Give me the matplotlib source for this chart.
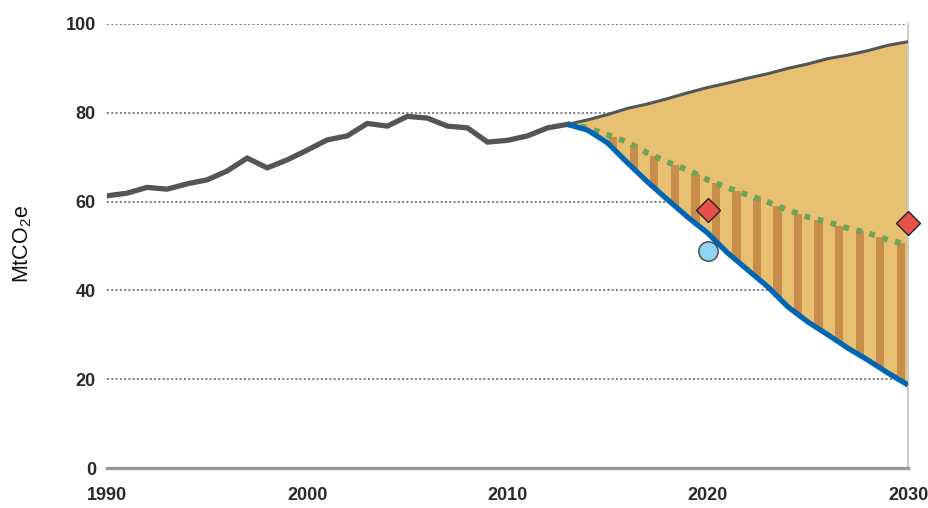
import numpy as np
import matplotlib
matplotlib.use("Agg")
import matplotlib.pyplot as plt

plt.rcParams['font.family'] = ['Liberation Sans', 'DejaVu Sans']
plt.rcParams['mathtext.default'] = 'regular'

hist_years = list(range(1990, 2014))
hist_vals = [61.3, 61.9, 63.2, 62.8, 64.0, 64.9, 66.9, 69.8, 67.6, 69.4,
             71.6, 73.9, 74.8, 77.6, 77.0, 79.2, 78.8, 77.0, 76.6, 73.4,
             73.8, 74.8, 76.6, 77.4]

proj_years = list(range(2013, 2031))
bau_vals = [77.4, 78.4, 79.6, 81.0, 82.0, 83.2, 84.5, 85.7, 86.7, 87.8,
            88.8, 90.0, 91.0, 92.2, 93.0, 94.0, 95.2, 96.0]
target_vals = [77.4, 76.6, 75.0, 73.4, 70.9, 68.9, 67.1, 64.9, 63.1, 61.5,
               59.9, 58.1, 56.5, 55.4, 54.0, 52.9, 51.4, 50.2]
pathway_vals = [77.4, 76.1, 73.2, 68.7, 64.4, 60.4, 56.5, 52.9, 48.4, 44.6,
                40.8, 36.3, 32.9, 30.0, 27.0, 24.3, 21.4, 18.7]

diamond_years = [2020, 2030]
diamond_vals = [58.2, 55.2]
circle_years = [2020]
circle_vals = [48.9]

y_ticks = [0, 20, 40, 60, 80, 100]
x_ticks = [1990, 2000, 2010, 2020, 2030]

fig = plt.figure(figsize=(9.29, 5.08), dpi=100)
ax = fig.add_axes([0.1152, 0.0787, 0.8622, 0.8741])

ax.set_xlim(1990, 2030)
ax.set_ylim(0, 100)

for yt in y_ticks[1:]:
    ax.axhline(yt, color='#7a7a7a', lw=1.4, ls=(0, (1, 1.2)), zorder=1)

# main fill between pathway and BAU
ax.fill_between(proj_years, pathway_vals, bau_vals, color='#E8C072', lw=0, zorder=2)

# stripes between pathway and target
stripe_x = np.arange(2014.25, 2030, 1.026)
lo = np.interp(stripe_x, proj_years, pathway_vals)
hi = np.interp(stripe_x, proj_years, target_vals)
ax.bar(stripe_x, hi - lo, bottom=lo, width=0.42, color='#C98D4B', lw=0, zorder=3)

ax.plot(proj_years, target_vals, color='#6FA356', lw=4.2, ls=(0, (1, 1.3)),
        zorder=4)
ax.plot(proj_years, bau_vals, color='#555555', lw=2.2, zorder=5,
        solid_capstyle='round')
ax.plot(hist_years, hist_vals, color='#555555', lw=3.8, zorder=6,
        solid_joinstyle='miter')
ax.plot(proj_years, pathway_vals, color='#0066B3', lw=3.8, zorder=6,
        solid_capstyle='butt')

ax.plot(diamond_years, diamond_vals, 'D', ms=12.5, mfc='#E8514A', mec='#222222',
        mew=1.0, zorder=8, clip_on=False)
ax.plot(circle_years, circle_vals, 'o', ms=14, mfc='#91D3F5', mec='#444444',
        mew=1.0, zorder=8, clip_on=False)

for s in ['top', 'left']:
    ax.spines[s].set_visible(False)
ax.spines['bottom'].set_color('#9a9a9a')
ax.spines['bottom'].set_linewidth(2.4)
ax.spines['right'].set_color('#cccccc')
ax.spines['right'].set_linewidth(1.5)

ax.set_yticks(y_ticks)
ax.set_xticks(x_ticks)
ax.set_xticklabels([str(x) for x in x_ticks])
ax.tick_params(length=0, labelsize=13, colors='#222222')
ax.tick_params(axis='y', pad=8)
ax.tick_params(axis='x', pad=14)
for lab in ax.get_xticklabels() + ax.get_yticklabels():
    lab.set_color('#2a2a2a')
    lab.set_fontweight('bold')

fig.text(0.024, 0.52, 'MtCO$_2$e', rotation=90, ha='center', va='center',
         fontsize=15.5, color='#111111')

fig.savefig('out.png', dpi=100)
